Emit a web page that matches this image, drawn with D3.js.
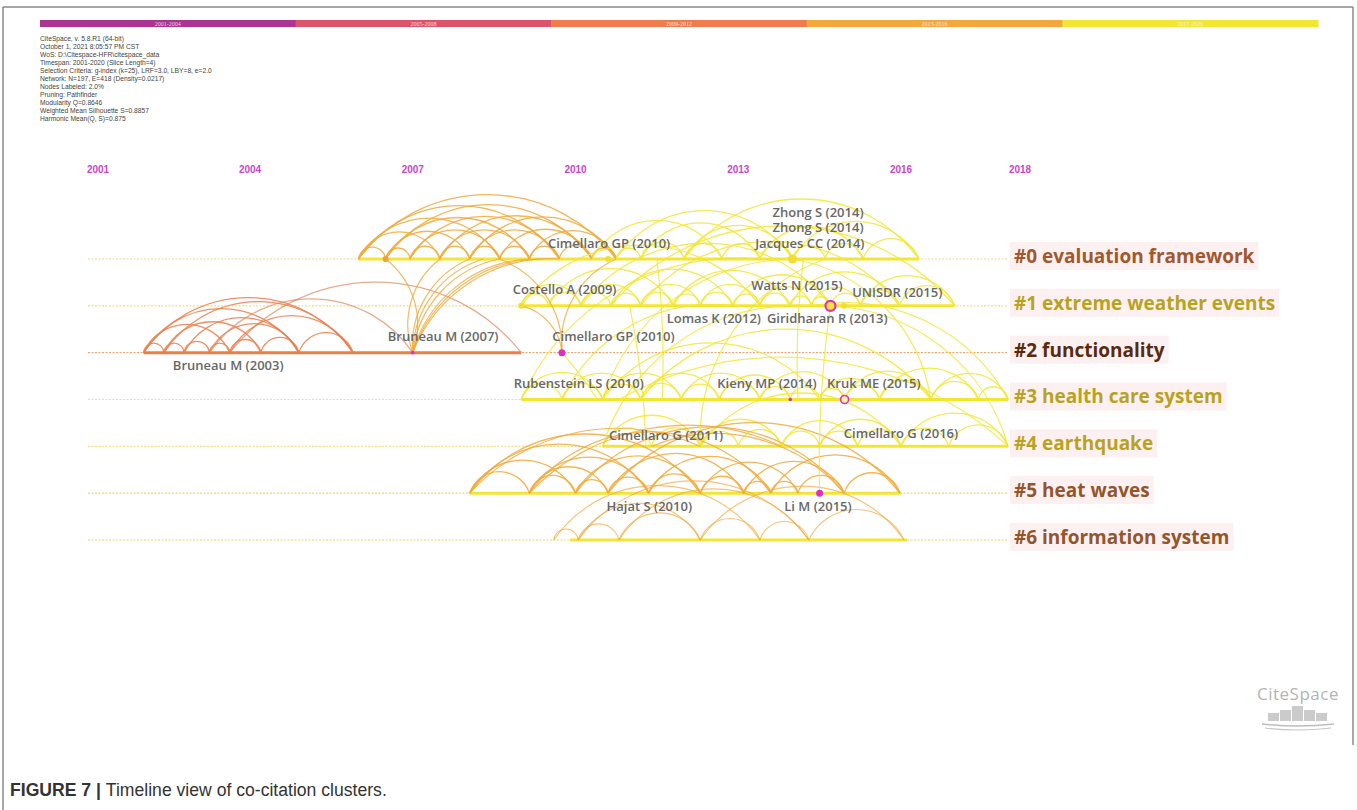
<!DOCTYPE html>
<html>
<head>
<meta charset="utf-8">
<script src="https://cdn.jsdelivr.net/npm/d3@7"></script>
<style>
  body { margin: 0; background: #fff; }
  svg text { font-family: "Open Sans", "Noto Sans", sans-serif; }
</style>
</head>
<body>
<svg id="viz" width="1357" height="810"></svg>
<script>
// ---- data ----
const sliceLabels = ["2001-2004", "2005-2008", "2009-2012", "2013-2016", "2017-2020"]
const sliceColors = ["#ac3592", "#d9566a", "#ee7d4c", "#f2a93a", "#f3e632"]

const headerLines = [
  "CiteSpace, v. 5.8.R1 (64-bit)",
  "October 1, 2021 8:05:57 PM CST",
  "WoS: D:\\Citespace-HFR\\citespace_data",
  "Timespan: 2001-2020 (Slice Length=4)",
  "Selection Criteria: g-index (k=25), LRF=3.0, LBY=8, e=2.0",
  "Network: N=197, E=418 (Density=0.0217)",
  "Nodes Labeled: 2.0%",
  "Pruning: Pathfinder",
  "Modularity Q=0.8646",
  "Weighted Mean Silhouette S=0.8857",
  "Harmonic Mean(Q, S)=0.875"
]

const yearTicks = [2001, 2004, 2007, 2010, 2013, 2016, 2018]

const clusterNames = ["#0 evaluation framework", "#1 extreme weather events", "#2 functionality",
  "#3 health care system", "#4 earthquake", "#5 heat waves", "#6 information system"]
// first / last year of each cluster's active line
const clusterSpans = [[2006.0, 2016.3], [2009.0, 2016.9], [2001.9, 2009.0], [2009.0, 2017.8],
  [2010.5, 2017.8], [2008.05, 2016.0], [2009.9, 2016.1]]
const clusterSpanSlice = [4, 4, 2, 4, 4, 4, 4]

// years of the nodes sitting on each cluster line
const rowNodes = [
  [2006.0, 2006.5, 2006.95, 2007.5, 2008.05, 2008.6, 2009.15, 2009.7, 2010.3, 2010.75, 2011.2, 2012.0, 2012.7, 2013.4, 2014.0, 2014.6, 2015.3, 2016.3],
  [2009.0, 2009.5, 2010.1, 2010.65, 2011.2, 2011.8, 2012.3, 2012.9, 2013.4, 2013.95, 2014.35, 2014.7, 2015.25, 2015.97, 2016.9],
  [2001.9, 2002.3, 2002.7, 2003.2, 2003.6, 2004.2, 2004.9, 2005.9, 2007.0, 2009.0, 2009.75],
  [2009.0, 2009.75, 2010.5, 2011.2, 2011.95, 2012.65, 2013.4, 2013.96, 2014.5, 2014.96, 2015.6, 2016.5, 2017.3, 2017.8],
  [2010.5, 2011.4, 2012.3, 2013.0, 2013.8, 2014.5, 2015.2, 2016.0, 2016.8, 2017.8],
  [2008.05, 2009.15, 2010.0, 2010.6, 2011.35, 2012.3, 2013.1, 2013.6, 2014.1, 2014.95, 2015.98],
  [2009.6, 2010.05, 2010.8, 2012.3, 2013.4, 2014.3, 2016.05]
]

// links inside a cluster: [row, node i, node j, slice]
const rowLinks = [
  [0,0,1,3],[0,1,2,3],[0,2,3,3],[0,3,4,3],[0,4,5,3],[0,5,6,3],[0,6,7,3],[0,7,8,3],[0,8,9,3],
  [0,0,3,3],[0,1,4,3],[0,2,5,3],[0,3,6,3],[0,4,7,3],[0,5,8,3],[0,6,9,3],
  [0,0,5,3],[0,1,6,3],[0,2,7,3],[0,3,8,3],[0,4,9,3],[0,0,7,3],[0,1,8,3],[0,0,9,3],
  [0,9,10,4],[0,10,11,4],[0,11,12,4],[0,12,13,4],[0,13,14,4],[0,14,15,4],[0,15,16,4],[0,16,17,4],
  [0,8,12,4],[0,10,13,4],[0,11,14,4],[0,13,16,4],[0,14,17,4],[0,9,14,4],[0,11,17,4],
  [1,0,1,4],[1,1,2,4],[1,2,3,4],[1,3,4,4],[1,4,5,4],[1,5,6,4],[1,6,7,4],[1,7,8,4],[1,8,9,4],
  [1,9,10,4],[1,10,11,4],[1,11,12,4],[1,12,13,4],[1,13,14,4],
  [1,0,2,4],[1,2,4,4],[1,4,6,4],[1,6,8,4],[1,8,10,4],[1,10,12,4],[1,12,14,4],
  [1,1,5,4],[1,3,7,4],[1,5,9,4],[1,7,11,4],[1,9,13,4],[1,0,8,4],[1,2,11,4],[1,4,13,4],[1,3,14,4],
  [2,0,1,2],[2,1,2,2],[2,2,3,2],[2,3,4,2],[2,4,5,2],[2,5,6,2],[2,6,7,2],
  [2,0,4,2],[2,1,5,2],[2,2,6,2],[2,3,6,2],[2,4,7,2],[2,0,6,2],[2,1,7,2],[2,0,7,2],
  [2,4,9,1],[2,3,8,1],
  [3,0,1,4],[3,1,2,4],[3,2,3,4],[3,3,4,4],[3,4,5,4],[3,5,6,4],[3,6,7,4],[3,7,8,4],[3,8,9,4],
  [3,9,10,4],[3,10,11,4],[3,11,12,4],[3,12,13,4],
  [3,0,2,4],[3,1,3,4],[3,2,4,4],[3,3,5,4],[3,4,6,4],[3,5,7,4],[3,6,9,4],[3,8,10,4],[3,9,11,4],
  [3,10,12,4],[3,11,13,4],[3,3,11,4],[3,2,8,4],
  [4,0,1,4],[4,1,2,4],[4,2,3,4],[4,3,4,4],[4,4,5,4],[4,5,6,4],[4,6,7,4],[4,7,8,4],[4,8,9,4],
  [4,0,2,4],[4,2,4,4],[4,4,6,4],[4,5,7,4],[4,7,9,4],[4,2,7,4],
  [5,0,1,3],[5,1,2,3],[5,2,3,3],[5,3,4,3],[5,4,5,3],[5,5,6,3],[5,6,7,3],[5,7,8,3],[5,8,9,3],[5,9,10,3],
  [5,0,2,3],[5,1,3,3],[5,1,4,3],[5,2,5,3],[5,3,6,3],[5,4,7,3],[5,5,8,3],[5,6,9,3],[5,7,10,3],
  [5,0,5,3],[5,1,7,3],[5,2,9,3],[5,3,10,3],[5,0,4,3],
  [6,0,1,3],[6,1,2,3],[6,2,3,3],[6,3,4,3],[6,4,5,3],[6,5,6,3],[6,1,3,3],[6,0,4,3],[6,1,5,3],
  [6,3,6,3],[6,2,5,3]
]

// links between clusters: [rowA, yearA, rowB, yearB, slice, shape]  (c = curved, s = nearly straight)
const crossLinks = [
  [2,2007.0,0,2006.5,3,"c"],[2,2007.0,0,2007.5,3,"c"],[2,2007.0,0,2008.05,3,"c"],[2,2007.0,0,2008.3,3,"c"],
  [2,2007.0,0,2008.6,3,"c"],[2,2007.0,0,2009.15,3,"c"],[2,2007.0,0,2009.4,3,"c"],[2,2007.0,0,2009.7,3,"c"],
  [2,2009.75,0,2008.6,3,"c"],[2,2009.75,0,2010.75,3,"c"],[2,2009.75,1,2009.0,3,"c"],
  [3,2009.0,0,2013.4,4,"c"],[3,2009.75,1,2012.9,4,"c"],[4,2010.5,1,2013.95,4,"c"],[3,2010.5,0,2014.0,4,"c"],
  [1,2014.7,4,2017.8,4,"c"],[1,2014.35,3,2017.8,4,"c"],[0,2014.0,3,2016.5,4,"c"],[3,2010.8,4,2017.8,4,"c"],
  [4,2012.3,0,2014.6,4,"c"],
  [1,2014.7,5,2014.5,4,"s"],[0,2011.5,3,2011.6,4,"s"],[1,2011.0,4,2011.3,4,"s"],[0,2014.2,3,2014.1,4,"s"],
  [2,2009.75,3,2010.4,4,"s"],
  [5,2008.05,4,2012.3,3,"c"],[5,2009.15,4,2013.8,3,"c"],[4,2011.4,5,2014.95,3,"c"]
]

// highlighted nodes: [row, year, kind]
const marks = [
  [0,2006.5,"dotO"],[0,2010.6,"dotYs"],[0,2014.0,"dotY"],
  [1,2009.0,"dotYs"],[1,2014.7,"ring"],[1,2014.95,"dotYs"],
  [2,2007.0,"hubS"],[2,2009.75,"hub"],
  [3,2013.96,"hubS"],[3,2014.96,"ringS"],
  [5,2014.5,"hub"]
]

// node labels: [text, row, year at label centre, slot (-1 = below line)]
const nodeLabels = [
  ["Zhong S (2014)", 0, 2014.47, 2], ["Zhong S (2014)", 0, 2014.47, 1], ["Jacques  CC (2014)", 0, 2014.32, 0],
  ["Cimellaro GP (2010)", 0, 2010.62, 0],
  ["Costello A (2009)", 1, 2009.8, 0], ["Watts N (2015)", 1, 2014.08, 0.3], ["UNISDR (2015)", 1, 2015.93, -0.2],
  ["Lomas K (2012)", 1, 2012.55, -1], ["Giridharan R (2013)", 1, 2014.64, -1],
  ["Bruneau M (2007)", 2, 2007.56, 0], ["Cimellaro GP (2010)", 2, 2010.7, 0], ["Bruneau M (2003)", 2, 2003.57, -1],
  ["Rubenstein LS (2010)", 3, 2010.06, 0], ["Kieny MP (2014)", 3, 2013.53, 0], ["Kruk ME (2015)", 3, 2015.5, 0],
  ["Cimellaro G (2011)", 4, 2011.67, -0.3], ["Cimellaro G (2016)", 4, 2016.0, -0.2],
  ["Hajat S (2010)", 5, 2011.36, -1], ["Li M (2015)", 5, 2014.47, -1]
]

// ---- styles ----
const clusterColors = ["#a0582c", "#b9a21f", "#5a2a0c", "#b9a21f", "#b9a21f", "#93562b", "#93562b"]
const dotColors = ["#f1d98a", "#f1e27a", "#eaa77a", "#f1e27a", "#f1e27a", "#f0cf78", "#f0d27a"]
const MAGENTA = "#e02ec8"

const svg = d3.select("svg#viz")

// frame
const frame = svg.append("g").attr("stroke", "#8a8a8a").attr("stroke-width", 1.5)
frame.append("line").attr("x1", 3).attr("x2", 3).attr("y1", 7).attr("y2", 810)
frame.append("line").attr("x1", 3).attr("x2", 1353).attr("y1", 7).attr("y2", 7)
frame.append("line").attr("x1", 1353).attr("x2", 1353).attr("y1", 7).attr("y2", 745)

// time-slice colour bar
const band = d3.scaleBand().domain(sliceLabels).range([40, 1318])
const bar = svg.append("g")
bar.selectAll("rect").data(sliceLabels).join("rect")
  .attr("x", d => band(d)).attr("y", 20).attr("width", band.bandwidth() + 0.5).attr("height", 7)
  .attr("fill", (d, i) => sliceColors[i])
bar.selectAll("text").data(sliceLabels).join("text")
  .attr("x", d => band(d) + band.bandwidth() / 2).attr("y", 26)
  .attr("text-anchor", "middle").attr("font-size", 6).style("font-family", "'Liberation Serif', serif")
  .attr("fill", "#fff").attr("fill-opacity", 0.75).text(d => d)

// header info
svg.append("g").selectAll("text").data(headerLines).join("text")
  .attr("x", 40).attr("y", (d, i) => 41 + i * 8)
  .style("font-family", "'Liberation Sans', Arial, sans-serif")
  .attr("font-size", 6.7).attr("fill", "#444").text(d => d)

// scales
const x = d3.scaleLinear().domain([2001, 2004, 2016, 2018]).range([98, 250, 901, 1020])
const y = d3.scaleLinear().domain([0, 6]).range([259, 540])

// year ticks
svg.append("g").selectAll("text").data(yearTicks).join("text")
  .attr("x", d => x(d)).attr("y", 173).attr("text-anchor", "middle")
  .style("font-family", "'Liberation Sans', Arial, sans-serif")
  .attr("font-size", 10).attr("font-weight", 700).attr("fill", "#cc44cc").text(d => d)

const chart = svg.append("g")

// dotted baselines
chart.selectAll("line.base").data(clusterNames).join("line")
  .attr("class", "base")
  .attr("x1", 88).attr("x2", 1008)
  .attr("y1", (d, i) => y(i)).attr("y2", (d, i) => y(i))
  .attr("stroke", (d, i) => dotColors[i]).attr("stroke-width", 1.2).attr("stroke-dasharray", "2,1.5")

// active spans
chart.selectAll("line.span").data(clusterSpans).join("line")
  .attr("class", "span")
  .attr("x1", d => x(d[0])).attr("x2", d => x(d[1]))
  .attr("y1", (d, i) => y(i)).attr("y2", (d, i) => y(i))
  .attr("stroke", (d, i) => sliceColors[clusterSpanSlice[i]]).attr("stroke-width", 3)

function rowArc(x1, x2, yy) {
  const c = Math.abs(x2 - x1)
  const h = Math.pow(c, 0.75)
  const r = (c * c / 4 + h * h) / (2 * h)
  return `M${Math.min(x1, x2)},${yy} A${r},${r} 0 0 1 ${Math.max(x1, x2)},${yy}`
}
function crossArc(xa, ya, xb, yb, shape) {
  let p = [[xa, ya], [xb, yb]].sort((a, b) => a[0] - b[0])
  const d = Math.hypot(xb - xa, yb - ya)
  const r = d * (shape === "s" ? 6 : 0.85)
  return `M${p[0][0]},${p[0][1]} A${r},${r} 0 0 1 ${p[1][0]},${p[1][1]}`
}

// within-cluster arcs
chart.append("g").attr("fill", "none").selectAll("path").data(rowLinks).join("path")
  .attr("d", d => rowArc(x(rowNodes[d[0]][d[1]]), x(rowNodes[d[0]][d[2]]), y(d[0])))
  .attr("stroke", d => d[3] === 1 ? "#d98a5e" : sliceColors[d[3]])
  .attr("stroke-opacity", d => d[0] === 6 ? 0.7 : (d[3] === 1 ? 0.7 : 0.85))
  .attr("stroke-width", d => d[0] === 6 ? 1.1 : 1.3)

// cross-cluster links
chart.append("g").attr("fill", "none").selectAll("path").data(crossLinks).join("path")
  .attr("d", d => crossArc(x(d[1]), y(d[0]), x(d[3]), y(d[2]), d[5]))
  .attr("stroke", d => sliceColors[d[4]])
  .attr("stroke-opacity", 0.8)
  .attr("stroke-width", 1.2)

// node marks
const markStyle = {
  hub: {r: 3.5, fill: MAGENTA, stroke: "none", sw: 0},
  hubS: {r: 1.8, fill: MAGENTA, stroke: "none", sw: 0},
  ring: {r: 5, fill: "#f3e632", stroke: MAGENTA, sw: 2.2},
  ringS: {r: 4, fill: "#fbf3a0", stroke: MAGENTA, sw: 1.6},
  dotY: {r: 4.5, fill: "#efe030", stroke: "none", sw: 0},
  dotYs: {r: 3, fill: "#efe030", stroke: "none", sw: 0},
  dotO: {r: 3, fill: "#f0a040", stroke: "none", sw: 0}
}
chart.append("g").selectAll("circle").data(marks).join("circle")
  .attr("cx", d => x(d[1])).attr("cy", d => y(d[0]))
  .attr("r", d => markStyle[d[2]].r)
  .attr("fill", d => markStyle[d[2]].fill)
  .attr("stroke", d => markStyle[d[2]].stroke)
  .attr("stroke-width", d => markStyle[d[2]].sw)

// node labels
chart.append("g").selectAll("text").data(nodeLabels).join("text")
  .attr("x", d => x(d[2]))
  .attr("y", d => d[3] === -1 ? y(d[1]) + 13 : y(d[1]) - 16 - d[3] * 15.5)
  .attr("dy", "0.35em").attr("text-anchor", "middle")
  .attr("font-size", 13).attr("font-weight", 600).attr("fill", "#686868")
  .text(d => d[0])

// cluster labels
const lab = chart.append("g").selectAll("g").data(clusterNames).join("g")
  .attr("transform", (d, i) => `translate(1014,${y(i) - 3})`)
lab.append("rect").attr("class", "bg")
lab.append("text").attr("dy", "0.36em")
  .attr("font-size", 19).attr("font-weight", 700)
  .attr("fill", (d, i) => clusterColors[i]).text(d => d)
lab.each(function () {
  const g = d3.select(this)
  const w = g.select("text").node().getComputedTextLength()
  g.select("rect").attr("x", -4).attr("y", -14).attr("width", w + 8).attr("height", 28).attr("fill", "#fcf0f1")
})

// CiteSpace logo
const logo = svg.append("g").attr("transform", "translate(1298,0)")
logo.append("text").attr("x", 0).attr("y", 700).attr("text-anchor", "middle")
  .attr("font-size", 17).attr("fill", "#b4b4b4").attr("letter-spacing", 0.5).text("CiteSpace")
const logoBars = [8, 11, 15, 11, 8]
logo.selectAll("rect").data(logoBars).join("rect")
  .attr("x", (d, i) => -30 + i * 12).attr("y", d => 721 - d).attr("width", 11).attr("height", d => d)
  .attr("fill", "#cbcbcb")
logo.append("path").attr("d", "M-36,724 Q0,728 36,724").attr("fill", "none").attr("stroke", "#bdbdbd").attr("stroke-width", 1.5)
logo.append("path").attr("d", "M-33,728 Q0,732 33,728").attr("fill", "none").attr("stroke", "#c6c6c6").attr("stroke-width", 1.2)

// caption
const cap = svg.append("text").attr("x", 10).attr("y", 796)
  .style("font-family", "'Liberation Sans', Arial, sans-serif").attr("font-size", 17.6).attr("fill", "#333")
cap.append("tspan").attr("font-weight", 700).text("FIGURE 7 | ")
cap.append("tspan").text("Timeline view of co-citation clusters.")
</script>
</body>
</html>
